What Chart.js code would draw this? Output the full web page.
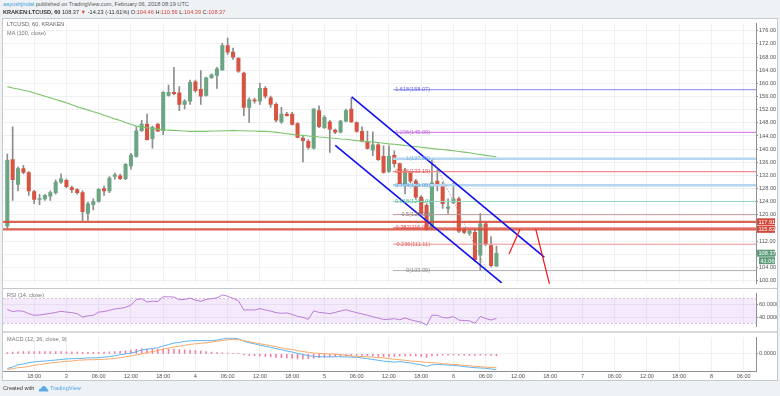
<!DOCTYPE html>
<html>
<head>
<meta charset="utf-8">
<script src="https://cdn.jsdelivr.net/npm/chart.js@4.4.1/dist/chart.umd.min.js"></script>
<style>
  body { margin: 0; width: 780px; height: 396px; background: #eff2f5; position: relative; overflow: hidden;
         font-family: "Liberation Sans", Arial, sans-serif; }
  .t { position: absolute; white-space: nowrap; font-size: 5.6px; line-height: 1; color: #555; }
  .r { color: #d9443a; }
  #box { position: absolute; left: 2px; top: 18px; width: 776px; height: 363px; background: #fff;
         border: 1px solid #c6cacf; box-sizing: border-box; }
  canvas { position: absolute; }
  .sep1 { position: absolute; left: 3px; top: 288px; width: 774px; height: 1px; background: #c4c7cb; }
  .sep2 { position: absolute; left: 3px; top: 331px; width: 774px; height: 2px; background: #d5d7da; }
</style>
</head>
<body>
<div id="box"></div>
<canvas id="main" width="774" height="269" style="left:3px;top:19px"></canvas>
<div class="sep1"></div>
<canvas id="rsi" width="774" height="42" style="left:3px;top:289px"></canvas>
<div class="sep2"></div>
<canvas id="macd" width="774" height="47" style="left:3px;top:333px"></canvas>

<div class="t" style="left:3px;top:2px"><span style="color:#3aa3e0">aayushjindal</span> published on TradingView.com, February 06, 2018 08:19 UTC</div>
<div class="t" style="left:3px;top:10px;color:#333"><b>KRAKEN:LTCUSD, 60</b> 108.37 <span class="r">&#9660;</span> -14.23 (-11.61%) O:<span class="r">104.46</span> H:<span class="r">110.56</span> L:<span class="r">104.39</span> C:<span class="r">108.37</span></div>
<div class="t" style="left:7px;top:22px;color:#666">LTCUSD, 60, KRAKEN</div>
<div class="t" style="left:7px;top:30.5px;color:#777">MA (100, close)</div>
<div class="t" style="left:7px;top:293px;color:#777">RSI (14, close)</div>
<div class="t" style="left:7px;top:336.5px;color:#777">MACD (12, 26, close, 9)</div>
<div class="t" style="left:3px;top:386px;color:#333">Created with</div>
<svg width="11" height="7" style="position:absolute;left:38px;top:385px"><path d="M1 6.5 Q0.5 3.5 3.2 3.4 Q3.8 0.4 6.8 1.2 Q9 1.8 8.8 3.8 Q10.8 4.2 10.4 6.5 Z" fill="#5aa9e6"/></svg>
<div class="t" style="left:50px;top:386px;color:#4aa6e6">TradingView</div>

<script>
// hourly candles, Feb 2 13:00 .. Feb 6 08:00 (index 1..92)
const OPEN = [116.6,136.8,129.3,134.1,132.9,127.1,124.7,124.9,125.7,126.8,
  130.0,130.5,128.3,127.7,126.8,120.5,123.1,124.1,128.0,127.3,
  131.7,131.9,131.0,134.9,137.8,145.6,147.6,143.2,147.6,145.6,
  156.3,157.3,157.1,153.6,154.6,160.5,158.2,156.3,161.7,162.4,
  164.1,171.5,169.5,167.6,163.1,152.7,155.0,154.6,158.5,155.6,
  153.6,148.3,150.7,150.7,147.8,143.4,142.4,140.3,151.7,146.5,
  148.3,145.8,145.2,148.5,152.2,148.1,145.4,142.2,139.7,141.3,
  137.8,133.2,138.1,135.6,128.8,132.7,130.3,125.4,122.9,116.1,
  130.3,128.8,122.0,123.7,124.9,115.6,114.4,114.7,107.8,117.3,
  110.7,104.46];
const HIGH = [138.5,146.8,134.6,135.1,133.2,127.5,126.3,126.3,127.3,130.7,
  132.5,130.9,128.8,128.0,127.3,123.9,124.9,128.0,128.8,131.7,
  132.7,132.4,135.6,138.7,146.8,148.8,150.7,147.0,147.8,157.5,
  159.5,164.9,159.0,155.1,161.0,161.0,163.9,161.9,162.9,164.9,
  172.2,173.8,170.7,167.8,163.4,155.6,155.5,160.0,159.0,156.1,
  154.1,152.7,151.2,151.2,148.1,143.9,142.9,152.4,153.2,150.2,
  148.8,146.1,148.8,152.2,155.6,148.3,146.8,145.5,145.3,141.7,
  141.0,141.0,139.5,135.8,134.2,133.2,130.8,125.9,123.4,137.09,
  133.7,130.0,124.9,129.8,125.4,116.1,115.4,115.6,120.5,117.8,
  113.4,110.56];
const LOW = [116.0,124.4,127.3,132.5,125.9,123.4,123.1,124.4,124.4,126.3,
  129.6,128.2,126.8,126.3,118.3,118.3,121.5,123.9,125.9,126.8,
  130.9,130.7,130.7,133.9,137.6,145.4,142.7,140.3,145.4,144.4,
  156.1,156.5,151.7,152.2,153.6,157.3,153.6,156.1,161.5,158.5,
  163.9,168.8,167.3,163.3,150.2,148.1,154.0,153.6,155.5,152.7,
  148.3,147.8,150.0,147.3,143.4,136.1,140.0,140.0,146.5,146.3,
  139.0,144.7,144.9,148.3,148.1,145.2,142.2,140.0,138.0,136.6,
  132.7,132.9,134.5,128.8,126.4,129.8,124.9,120.0,115.4,115.6,
  127.3,122.0,120.5,123.4,114.6,114.3,113.8,105.9,103.09,110.7,
  104.2,104.39];
const CLOSE = [136.6,130.7,134.1,132.9,127.3,124.7,124.8,126.0,126.8,130.0,
  131.0,128.6,127.7,126.8,121.0,123.4,124.1,127.8,127.3,131.2,
  132.2,131.0,135.4,138.2,145.6,147.6,142.9,146.6,145.5,157.3,
  157.3,156.9,153.6,154.6,160.3,157.8,156.1,161.7,162.6,164.4,
  171.5,169.5,168.0,163.7,152.7,155.1,154.7,158.5,156.1,153.6,
  148.8,150.7,150.2,147.5,143.6,142.6,140.5,152.2,146.8,149.7,
  146.1,145.2,148.5,151.7,148.3,145.4,142.4,140.2,141.3,136.8,
  132.9,137.8,135.6,129.3,132.7,130.3,125.4,120.5,115.6,129.8,
  128.8,123.4,122.5,124.9,115.1,114.7,115.0,106.4,117.3,111.2,
  104.6,108.37];
const MA100 = [159.0,158.6,158.3,157.9,157.6,157.1,156.6,156.1,155.6,155.1,
  154.6,154.1,153.5,152.9,152.4,151.9,151.4,150.9,150.3,149.8,
  149.2,148.7,148.1,147.6,147.0,146.7,146.5,146.3,146.1,145.9,
  145.8,145.7,145.6,145.5,145.4,145.4,145.4,145.4,145.5,145.5,
  145.6,145.6,145.7,145.6,145.6,145.5,145.5,145.4,145.4,145.3,
  145.1,144.9,144.7,144.5,144.3,144.2,144.0,143.9,143.7,143.6,
  143.4,143.3,143.1,143.0,142.8,142.6,142.5,142.3,142.2,142.0,
  141.8,141.6,141.5,141.3,141.1,140.9,140.8,140.6,140.4,140.2,
  140.0,139.9,139.7,139.5,139.3,139.1,138.9,138.6,138.4,138.1,
  137.9,137.6];
const RSI = [52.3,48.9,50.2,49.3,45.5,43.0,43.4,44.7,46.0,47.6,
  49.3,48.1,47.2,45.5,40.0,42.1,43.0,48.1,48.9,51.0,
  53.2,54.0,55.7,59.5,68.0,69.7,64.2,65.5,65.1,72.7,
  72.7,72.3,68.0,68.4,70.6,67.2,65.5,68.4,69.7,71.0,
  75.7,73.5,70.1,66.3,51.5,51.5,51.5,53.6,51.5,49.8,
  47.2,46.0,46.8,44.3,41.3,39.6,36.6,50.2,47.6,46.8,
  45.5,47.6,49.8,51.9,49.3,47.2,45.1,43.0,40.4,38.7,
  36.2,36.6,37.5,35.8,38.7,35.8,33.6,31.9,26.9,43.0,
  43.0,39.2,38.7,40.9,35.3,34.5,34.1,30.2,40.9,37.9,
  35.3,37.9];
const MACD = [-5.5,-4.9,-4.1,-3.8,-3.3,-3.0,-2.8,-2.7,-2.5,-2.3,
  -2.1,-1.9,-1.8,-1.7,-1.7,-1.5,-1.5,-1.4,-1.2,-1.0,
  -0.7,-0.3,0.0,0.3,0.8,1.5,1.8,2.0,2.3,3.0,
  3.5,4.1,4.3,4.7,4.9,5.0,5.0,5.0,5.0,5.2,
  5.6,5.9,5.9,5.7,4.8,4.2,3.8,3.3,2.9,2.5,
  2.0,1.6,1.1,0.7,0.2,-0.2,-0.7,-0.9,-1.1,-1.1,
  -1.1,-1.1,-1.1,-1.1,-1.2,-1.3,-1.5,-1.8,-2.1,-2.4,
  -2.7,-2.9,-3.1,-2.9,-3.2,-3.4,-3.8,-4.1,-4.7,-4.1,
  -4.0,-4.1,-4.2,-4.3,-4.5,-4.8,-5.0,-5.2,-5.3,-5.4,
  -5.7,-5.9];
const SIGNAL = [-5.9,-5.5,-5.2,-5.0,-4.7,-4.3,-4.0,-3.7,-3.4,-3.2,
  -3.0,-2.8,-2.7,-2.4,-2.3,-2.2,-2.2,-2.1,-2.0,-1.9,
  -1.7,-1.4,-1.1,-0.7,-0.4,0.0,0.5,0.9,1.3,1.8,
  2.2,2.6,2.9,3.2,3.6,3.8,4.0,4.2,4.5,4.8,
  5.0,5.3,5.5,5.3,5.0,4.6,4.2,3.8,3.5,3.1,
  2.7,2.3,1.9,1.6,1.2,0.9,0.6,0.3,0.2,0.1,
  0.0,-0.1,-0.3,-0.5,-0.8,-0.9,-1.0,-1.1,-1.2,-1.4,
  -1.5,-1.8,-2.0,-2.2,-2.4,-2.7,-2.8,-3.0,-3.2,-3.3,
  -3.4,-3.7,-3.8,-4.0,-4.1,-4.3,-4.4,-4.7,-4.8,-5.0,
  -5.1,-5.2];
const HIST = [0.5,0.7,0.8,0.9,0.9,0.9,0.9,0.9,0.9,0.9,
  0.9,0.8,0.8,0.7,0.6,0.6,0.6,0.6,0.7,0.8,
  0.9,1.0,1.2,1.4,1.7,1.9,1.8,1.7,1.7,1.8,
  1.8,1.7,1.6,1.5,1.4,1.3,1.1,0.9,0.7,0.5,
  0.4,0.3,0.2,0.1,-0.4,-0.6,-0.7,-0.8,-0.9,-1.1,
  -1.3,-1.4,-1.6,-1.7,-1.9,-1.9,-1.8,-1.6,-1.4,-1.3,
  -1.1,-1.0,-0.9,-0.8,-0.7,-0.6,-0.6,-0.7,-0.8,-0.9,
  -0.9,-0.9,-0.9,-0.8,-0.8,-0.7,-0.8,-0.9,-1.3,-0.8,
  -0.6,-0.5,-0.5,-0.4,-0.5,-0.5,-0.6,-0.6,-0.5,-0.5,
  -0.6,-0.7];

// time axis: candle index -> label (every 6 hours)
const TIME_TICKS = [6,12,18,24,30,36,42,48,54,60,66,72,78,84,90,96,102,108,114,120,126,132,138];
const TIME_LABELS = ['18:00','3','06:00','12:00','18:00','4','06:00','12:00','18:00','5','06:00','12:00',
  '18:00','6','06:00','12:00','18:00','7','06:00','12:00','18:00','8','06:00'];
const PRICE_TICKS = [100,104,108,112,116,120,124,128,132,136,140,144,148,152,156,160,164,168,172,176];
const RSI_TICKS = [40, 60];
const MACD_TICKS = [0];

// fibonacci retracement drawing
const FIB_LEVELS = ['1.618','1.236','1','0.886','0.764','0.618','0.5','0.382','0.236','0'];
const FIB_PRICES = [158.07,145.09,137.09,133.19,129.05,124.10,120.09,116.08,111.11,103.09];
const FIB_LINE = ['#8787ee','#d88cef','#b5d6ef','#f28b8b','#b5d6ef','#93d8bf','#b89a9a','#e86a6a','#f29090','#b0b0b0'];
const FIB_TEXT = ['#6b6be6','#c46ae0','#7fb6e0','#e25252','#5a9fd4','#4fb88f','#8a7a7a','#e04848','#e06060','#888888'];
const FIB_WIDTH = [1,1.3,2.6,1.2,2.6,1,1,1,1,1];
const FIB_START = 72.76, FIB_LABEL_END = 79.64;
const FIB_DIAG = [[80.14, 137.09], [90.25, 103.09]];
// other drawings (candle index, price)
const SUPPORT = [117.91, 115.63];
const CHANNEL_UP = [[65.07, 155.88], [100.9, 107.15]];
const CHANNEL_LOW = [[62.02, 141.18], [92.98, 99.32]];
const ARROW_1 = [[94.34, 108.15], [96.39, 115.68]];
const ARROW_2 = [[99.31, 115.68], [101.97, 98.3]];

const X_MIN = 0.2, X_MAX = 140.29;
const UP = '#6ba583', DOWN = '#d75442', WICK = '#8c8c8c';

Chart.defaults.font.family = '"Liberation Sans", Arial, sans-serif';
Chart.defaults.font.size = 5.6;
Chart.defaults.animation = false;

function xAxis(show) {
  return {
    type: 'linear', min: X_MIN, max: X_MAX, offset: false,
    afterBuildTicks: s => { s.ticks = TIME_TICKS.map(v => ({ value: v })); },
    afterFit: s => { s.height = show ? 9 : 0; },
    ticks: { display: show, autoSkip: false, maxRotation: 0, padding: 2, color: '#555',
             callback: (v, i) => TIME_LABELS[i] },
    grid: { color: '#eef0f2', drawTicks: false, offset: false },
    border: { display: show, color: '#8e9297' }
  };
}
function yAxis(min, max, ticks, digits) {
  return {
    position: 'right', min: min, max: max,
    afterBuildTicks: s => { s.ticks = ticks.map(v => ({ value: v })); },
    afterFit: s => { s.width = 21; },
    ticks: { padding: 1, color: '#555', callback: v => v.toFixed(digits) },
    grid: { color: '#eef0f2', tickLength: 2, tickColor: '#8e9297' },
    border: { color: '#8e9297' }
  };
}
const baseOpts = (scales) => ({
  responsive: false, maintainAspectRatio: false, animation: false,
  layout: { padding: 0 },
  plugins: { legend: { display: false }, tooltip: { enabled: false } },
  events: [],
  scales: scales
});
const seg = (pts, color, width, order, dash) => ({
  type: 'line', data: pts.map(p => ({ x: p[0], y: p[1] })), borderColor: color, borderWidth: width,
  borderDash: dash || [], pointRadius: 0, fill: false, order: order
});

const idx = OPEN.map((_, i) => i + 1);

const mainDatasets = [
  { type: 'bar', data: idx.map((x, i) => ({ x: x, y: [LOW[i], HIGH[i]] })), backgroundColor: WICK,
    barThickness: 1, grouped: false, order: 50 },
  { type: 'bar', data: idx.map((x, i) => ({ x: x, y: [OPEN[i], CLOSE[i]] })),
    backgroundColor: idx.map((x, i) => CLOSE[i] >= OPEN[i] ? UP : DOWN),
    barThickness: 3.4, minBarLength: 1, grouped: false, order: 40 },
  { type: 'line', data: idx.map((x, i) => ({ x: x, y: MA100[i] })), borderColor: '#7bc36a',
    borderWidth: 1.1, pointRadius: 0, order: 30 }
];
FIB_PRICES.forEach((p, k) => mainDatasets.push(seg([[FIB_START, p], [X_MAX, p]], FIB_LINE[k], FIB_WIDTH[k], 20)));
SUPPORT.forEach(p => mainDatasets.push(seg([[X_MIN, p], [X_MAX, p]], 'rgba(214,72,52,0.85)', 2.4, 15)));
mainDatasets.push(seg(FIB_DIAG, '#9a9a9a', 0.8, 12, [1.5, 1.5]));
mainDatasets.push(seg(CHANNEL_UP, '#1010f0', 1.6, 10));
mainDatasets.push(seg(CHANNEL_LOW, '#1010f0', 1.6, 10));
mainDatasets.push(seg(ARROW_1, '#f01818', 1.2, 5));
mainDatasets.push(seg(ARROW_2, '#f01818', 1.2, 5));

const tag = (ctx, area, yPix, text, color, left) => {
  ctx.fillStyle = color;
  ctx.fillRect(area.right + (left || 1), yPix - 3.5, 18 - (left || 1) + 1, 7);
  ctx.fillStyle = '#fff';
  ctx.textAlign = 'left'; ctx.textBaseline = 'middle';
  ctx.fillText(text, area.right + (left || 1) + 1.5, yPix + 0.3);
};

const mainPlugin = {
  id: 'mainText',
  afterDatasetsDraw(chart) {
    const { ctx, scales: { x, y } } = chart;
    ctx.save();
    ctx.font = '5.6px "Liberation Sans", Arial, sans-serif';
    ctx.textAlign = 'right'; ctx.textBaseline = 'middle';
    FIB_PRICES.forEach((p, k) => {
      ctx.fillStyle = FIB_TEXT[k];
      ctx.fillText(FIB_LEVELS[k] + '(' + p.toFixed(2) + ')', x.getPixelForValue(FIB_LABEL_END), y.getPixelForValue(p));
    });
    ctx.restore();
  },
  afterDraw(chart) {
    const { ctx, chartArea, scales: { y } } = chart;
    ctx.save();
    ctx.font = '5.6px "Liberation Sans", Arial, sans-serif';
    tag(ctx, chartArea, y.getPixelForValue(SUPPORT[0]), SUPPORT[0].toFixed(2), '#d2483a');
    tag(ctx, chartArea, y.getPixelForValue(SUPPORT[1]), SUPPORT[1].toFixed(2), '#d2483a');
    const last = CLOSE[CLOSE.length - 1];
    const py = y.getPixelForValue(last);
    tag(ctx, chartArea, py, last.toFixed(2), '#5f9c7b');
    tag(ctx, chartArea, py + 7.5, '41:06', '#5f9c7b', 3);
    ctx.restore();
  }
};

new Chart(document.getElementById('main'), {
  type: 'bar',
  data: { datasets: mainDatasets },
  options: baseOpts({ x: xAxis(false), y: yAxis(99.12, 178.24, PRICE_TICKS, 2) }),
  plugins: [mainPlugin]
});

new Chart(document.getElementById('rsi'), {
  type: 'line',
  data: { datasets: [
    { data: [{ x: X_MIN, y: 70 }, { x: X_MAX, y: 70 }], borderColor: '#c9b5d6', borderWidth: 0.8,
      borderDash: [2, 2], pointRadius: 0, fill: '+1', backgroundColor: 'rgba(196,130,240,0.17)', order: 3 },
    { data: [{ x: X_MIN, y: 30 }, { x: X_MAX, y: 30 }], borderColor: '#c9b5d6', borderWidth: 0.8,
      borderDash: [2, 2], pointRadius: 0, fill: false, order: 2 },
    { data: idx.map((x, i) => ({ x: x, y: RSI[i] })), borderColor: '#b36fd3', borderWidth: 0.9,
      pointRadius: 0, fill: false, order: 1 }
  ]},
  options: baseOpts({ x: xAxis(false), y: yAxis(24.7, 78.2, RSI_TICKS, 4) })
});

new Chart(document.getElementById('macd'), {
  type: 'bar',
  data: { datasets: [
    { type: 'bar', data: idx.map((x, i) => ({ x: x, y: HIST[i] })), backgroundColor: '#f27aa2',
      barThickness: 0.9, grouped: false, order: 3 },
    { type: 'line', data: idx.map((x, i) => ({ x: x, y: MACD[i] })), borderColor: '#5db4f0',
      borderWidth: 1, pointRadius: 0, order: 2 },
    { type: 'line', data: idx.map((x, i) => ({ x: x, y: SIGNAL[i] })), borderColor: '#f8a868',
      borderWidth: 1, pointRadius: 0, order: 1 }
  ]},
  options: baseOpts({ x: xAxis(true), y: yAxis(-6.43, 6.23, MACD_TICKS, 4) })
});
</script>
</body>
</html>
